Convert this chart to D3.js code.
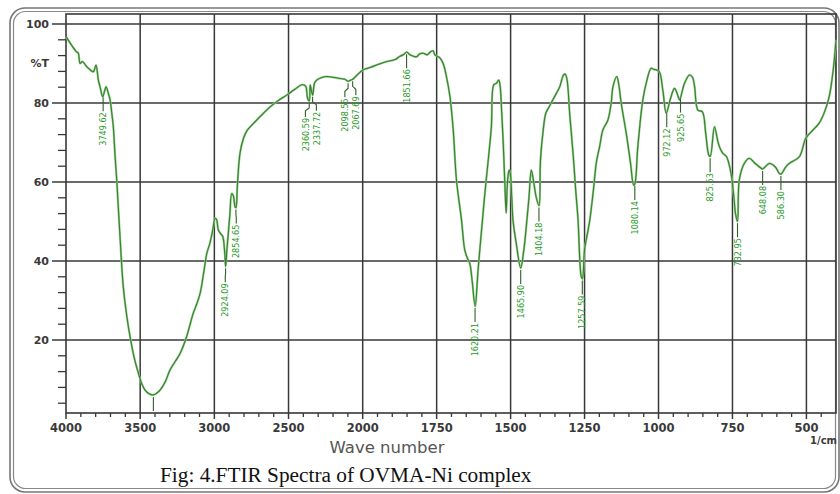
<!DOCTYPE html>
<html><head><meta charset="utf-8">
<script src="https://cdn.jsdelivr.net/npm/d3@7"></script>
<style>body{margin:0;background:#fff}svg{display:block}</style>
</head><body><svg id="c" width="840" height="494"></svg>
<script>
const wavenumber = [4000,3960,3930,3917,3905,3890,3860,3840,3816,3798,3782,3770,3753,3740,3730,3715,3703,3690,3681,3670,3658,3636,3614,3590,3568,3540,3512,3490,3467,3440,3411,3390,3366,3330,3299,3265,3231,3190,3142,3120,3096,3070,3051,3030,3010,2995,2985,2973,2955,2943,2930,2924,2915,2906,2895,2883,2872,2860,2854,2845,2827,2804,2780,2737,2680,2624,2570,2512,2460,2411,2385,2372,2360,2354,2345,2337,2325,2310,2280,2242,2200,2153,2120,2098,2080,2067,2040,1998,1975,1953,1919,1890,1875,1863,1851,1840,1818,1808,1795,1782,1770,1762,1756,1740,1728,1717,1705,1694,1683,1666,1655,1645,1638,1630,1620,1610,1598,1587,1575,1565,1557,1548,1540,1535,1531,1525,1520,1515,1512,1509,1505,1501,1496,1492,1480,1466,1455,1447,1438,1430,1422,1413,1404,1399,1390,1381,1370,1357,1345,1334,1321,1315,1309,1300,1289,1280,1272,1261,1257,1250,1233,1220,1210,1199,1188,1171,1160,1154,1141,1135,1126,1109,1095,1084,1080,1070,1053,1040,1025,1015,1008,997,985,974,960,946,935,929,912,895,885,878,867,852,840,830,825,811,800,794,783,770,755,745,740,733,727,710,693,675,653,648,625,605,592,586,570,558,524,502,480,457,440,423,410,400];
const transmittance = [96.8,94.5,93,92.6,90,90.5,89.2,88.5,87.9,89.6,85.8,84,81.6,83,84.1,82.5,80.8,77,74,67,60.5,46.2,33.5,26,20.8,15.5,11.6,9,7.3,6.4,6.1,6.5,7.3,9.5,12.4,14.5,16.6,20.5,26.8,29,31.8,37.5,41.9,44.5,48,50.8,50.5,47.8,46.8,46.2,42,38.6,43,47,52,57.1,56.5,53.7,53.5,59,67.3,71,73,74.8,77,79,80.6,82,83.4,84.6,84.3,81.2,80.5,84.6,83,82,85,85.8,86.4,86.7,86.5,86.2,86,85.5,85.8,86,87,88.4,89,89.6,90.5,91,91.8,92.2,92.9,92.2,91.7,92.4,92.6,92.2,93,93.2,92.2,91.5,90,86.7,81.6,73.2,60.5,50.4,42.8,40.5,39.4,35,28.5,37.7,48,57.1,66,74,84.6,85,85.8,84,79,70,60.5,52.1,58,61.3,63,62.2,56,50.4,44,38.2,43,48.7,56,63,60,56,54,65.6,73,77.4,79,80.8,82.5,84.1,87.1,87.3,85.8,77,67.3,58,50.4,36,35.5,42.8,50,58,65,69,73.2,75.7,80,84.1,86.7,85,79.9,72.3,65,59.2,59.5,68.9,80.8,85.5,88.8,88.5,88.4,87.9,83,77.4,81,83.7,82,80.8,85,87.1,86.5,84.1,78.2,77.8,72,66.8,66.5,74,70.5,68.9,67.3,66.4,62.2,56,52.1,50,60.5,64.7,66,64.8,63.5,63.3,64.7,63.8,62.2,62,63.8,64.7,66.4,71.1,73,74.9,77.5,81.6,88,96];
const peakWavenumbers = [3749.62,3411,2924.09,2854.65,2360.59,2337.72,2098.55,2067.69,1851.66,1620.21,1465.90,1404.18,1257.59,1080.14,972.12,925.65,825.53,732.95,648.08,586.30];
const peakLabels = ["3749.62","","2924.09","2854.65","2360.59","2337.72","2098.55","2067.69","1851.66","1620.21","1465.90","1404.18","1257.59","1080.14","972.12","925.65","825.53","732.95","648.08","586.30"];
const xTickValues = [4000,3500,3000,2500,2000,1750,1500,1250,1000,750,500];
const yTickValues = [20,40,60,80,100];
const yAxisTitle = "%T";
const xAxisTitle = "Wave number";
const xUnit = "1/cm";
const caption = "Fig: 4.FTIR Spectra of OVMA-Ni complex";

(function () {
const svg = d3.select("#c");
const pLeft = 66, pRight = 836, pTop = 14, pBottom = 413;
const x = d3.scaleLinear().domain([4000, 2000, 400]).range([pLeft, 362.7, pRight]);
const y = d3.scaleLinear().domain([0, 100]).range([419, 24]);
const grid = "#383838";

// outer rounded double frame
svg.append("rect").attr("x",10).attr("y",8).attr("width",829).attr("height",484).attr("rx",15)
  .attr("fill","none").attr("stroke","#777").attr("stroke-width",1.6);
svg.append("rect").attr("x",13.5).attr("y",11.5).attr("width",822).attr("height",477).attr("rx",12)
  .attr("fill","none").attr("stroke","#888").attr("stroke-width",1.2);

// minor ticks
const xMinor = d3.range(3900, 2000, -100).concat(d3.range(1950, 400, -50)).filter(v => !xTickValues.includes(v));
svg.append("g").selectAll("line").data(xMinor).join("line")
  .attr("x1", d => x(d)).attr("x2", d => x(d)).attr("y1", pBottom).attr("y2", pBottom + 4)
  .attr("stroke", grid).attr("stroke-width", 1.3);
svg.append("g").selectAll("line").data(xTickValues).join("line")
  .attr("x1", d => x(d)).attr("x2", d => x(d)).attr("y1", pBottom).attr("y2", pBottom + 6)
  .attr("stroke", grid).attr("stroke-width", 1.5);
const yMinor = d3.range(4, 100, 4).filter(v => v % 20 !== 0);
svg.append("g").selectAll("line").data(yMinor).join("line")
  .attr("x1", pLeft - 8).attr("x2", pLeft).attr("y1", d => y(d)).attr("y2", d => y(d))
  .attr("stroke", grid).attr("stroke-width", 1.3);
svg.append("g").selectAll("line").data(yTickValues).join("line")
  .attr("x1", pLeft - 14).attr("x2", pLeft).attr("y1", d => y(d)).attr("y2", d => y(d))
  .attr("stroke", grid).attr("stroke-width", 1.5);

// grid
svg.append("g").selectAll("line").data(xTickValues.filter(v => v !== 4000)).join("line")
  .attr("x1", d => x(d)).attr("x2", d => x(d)).attr("y1", pTop).attr("y2", pBottom)
  .attr("stroke", grid).attr("stroke-width", 1.5);
svg.append("g").selectAll("line").data(yTickValues).join("line")
  .attr("x1", pLeft).attr("x2", pRight).attr("y1", d => y(d)).attr("y2", d => y(d))
  .attr("stroke", grid).attr("stroke-width", 1.5);
svg.append("rect").attr("x", pLeft).attr("y", pTop).attr("width", pRight - pLeft).attr("height", pBottom - pTop)
  .attr("fill", "none").attr("stroke", grid).attr("stroke-width", 1.6);

// tick labels
const tickFont = "'DejaVu Sans', sans-serif";
svg.append("g").selectAll("text").data(xTickValues).join("text")
  .attr("x", d => x(d)).attr("y", 432).attr("text-anchor", "middle")
  .attr("font-family", tickFont).attr("font-weight", "bold").attr("font-size", 11.5)
  .attr("fill", "#3a3a3a").text(d => d);
svg.append("g").selectAll("text").data(yTickValues).join("text")
  .attr("x", 49).attr("y", d => y(d) + 4).attr("text-anchor", "end")
  .attr("font-family", tickFont).attr("font-weight", "bold").attr("font-size", 11)
  .attr("fill", "#3a3a3a").text(d => d);
svg.append("text").attr("x", 49).attr("y", 67).attr("text-anchor", "end")
  .attr("font-family", tickFont).attr("font-weight", "bold").attr("font-size", 11)
  .attr("fill", "#3a3a3a").text(yAxisTitle);
svg.append("text").attr("x", 837).attr("y", 444).attr("text-anchor", "end")
  .attr("font-family", tickFont).attr("font-weight", "bold").attr("font-size", 10)
  .attr("fill", "#3a3a3a").text(xUnit);
svg.append("text").attr("x", 387).attr("y", 453).attr("text-anchor", "middle")
  .attr("font-family", tickFont).attr("font-size", 16.5)
  .attr("fill", "#555").text(xAxisTitle);
svg.append("text").attr("x", 160).attr("y", 482)
  .attr("font-family", "'Liberation Serif', 'Times New Roman', serif").attr("font-size", 21.3)
  .attr("fill", "#111").text(caption);

// spectrum
const pts = wavenumber.map((w, i) => [w, transmittance[i]]);
const line = d3.line().x(d => x(d[0])).y(d => y(d[1])).curve(d3.curveCatmullRom.alpha(0.5));
svg.append("path").datum(pts).attr("d", line).attr("fill", "none")
  .attr("stroke", "#8fd486").attr("stroke-width", 2.2).attr("stroke-linejoin", "round");
svg.append("path").datum(pts).attr("d", line).attr("fill", "none")
  .attr("stroke", "#3c7a34").attr("stroke-width", 1.1).attr("stroke-linejoin", "round");

// peak labels
function interp(w) {
  for (let i = 0; i < wavenumber.length - 1; i++) {
    if (wavenumber[i] >= w && wavenumber[i + 1] <= w) {
      const t = (wavenumber[i] - w) / (wavenumber[i] - wavenumber[i + 1]);
      return transmittance[i] + t * (transmittance[i + 1] - transmittance[i]);
    }
  }
  return transmittance[transmittance.length - 1];
}
const peaks = peakWavenumbers.map((w, i) => ({ w, label: peakLabels[i], px: x(w), py: y(interp(w)) }));
peaks.forEach(p => p.lx = p.px);
for (let i = 0; i < peaks.length - 1; i++) {
  const a = peaks[i], b = peaks[i + 1];
  if (b.lx - a.lx < 11) {
    const m = (a.px + b.px) / 2;
    a.lx = m - 5.5; b.lx = m + 5.5;
  }
}
const pg = svg.append("g");
peaks.forEach(p => {
  const y0 = p.py + 2, yk = p.py + 7, y1 = p.py + 16;
  pg.append("path").attr("d", `M${p.px},${y0}L${p.px},${yk}L${p.lx},${yk + 3}L${p.lx},${y1}`)
    .attr("fill", "none").attr("stroke", "#2f5f2a").attr("stroke-width", 1.1);
  if (p.label) {
    pg.append("text").attr("transform", `translate(${p.lx},${p.py + 17}) rotate(-90)`)
      .attr("text-anchor", "end").attr("dy", "0.35em")
      .attr("font-family", "'Liberation Sans Narrow', 'Arial Narrow', 'DejaVu Sans Condensed', sans-serif")
      .attr("font-size", 9).attr("fill", "#1f9a1f").text(p.label);
  }
});
})();
</script></body></html>
